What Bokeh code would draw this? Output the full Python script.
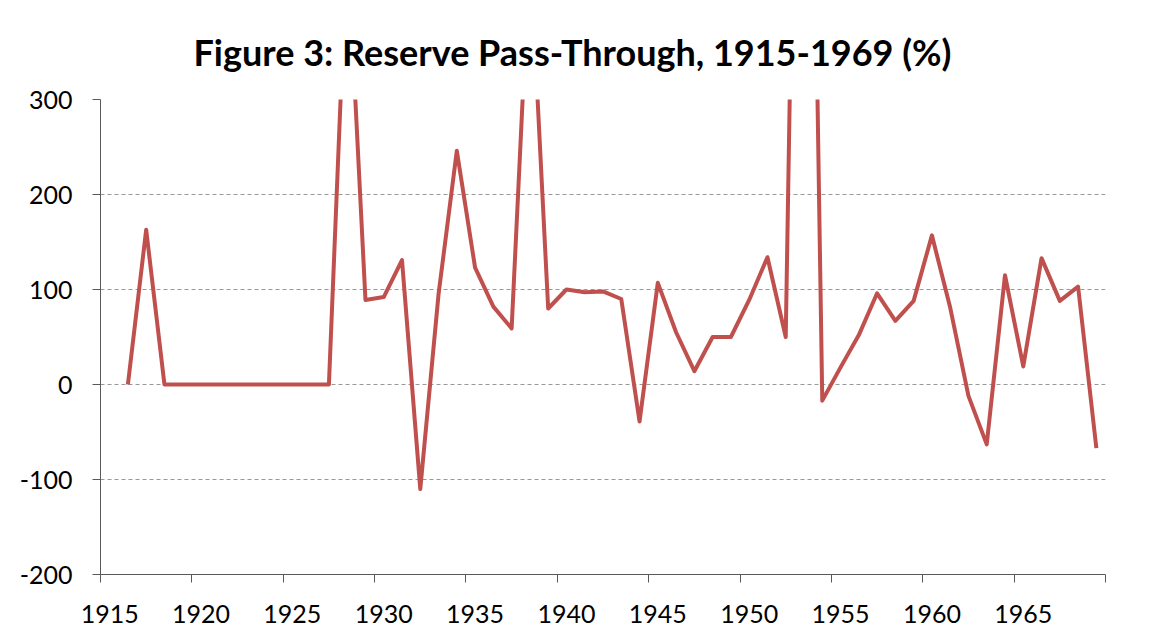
from bokeh.plotting import figure
from bokeh.models import FixedTicker, Range1d, ColumnDataSource, Title
from bokeh.embed import file_html
from bokeh.resources import INLINE

# ---- data ----
years = list(range(1916, 1970))
pass_through = [
    0, 163, 0, 0, 0, 0, 0, 0, 0, 0, 0, 0,      # 1916-1927
    470, 89, 92, 131, -110, 95, 246, 123, 82, 59,  # 1928-1937
    460, 80, 100, 97, 98, 90, -39, 107, 55, 14,    # 1938-1947
    50, 50, 89, 134, 50, 1200, -17, 18, 52, 96,    # 1948-1957
    67, 88, 157, 81, -12, -63, 115, 19, 133, 88,   # 1958-1967
    103, -67,                                      # 1968-1969
]
x_label_years = [1915, 1920, 1925, 1930, 1935, 1940, 1945, 1950, 1955, 1960, 1965]
y_ticks = [-200, -100, 0, 100, 200, 300]
y_tick_labels = ["-200", "-100", "0", "100", "200", "300"]
title_text = "Figure 3: Reserve Pass-Through, 1915-1969 (%)"

FONT = "Lato"

W, H = 1133, 628
p = figure(width=W, height=H, output_backend="svg", toolbar_location=None,
           x_range=Range1d(1914.5, 1969.5), y_range=Range1d(-200, 300),
           min_border_left=100, min_border_right=28, min_border_top=99,
           min_border_bottom=54)
p.outline_line_color = None
p.background_fill_color = "white"
p.border_fill_color = "white"

src = ColumnDataSource(dict(year=years, v=pass_through))
p.line("year", "v", source=src, line_color="#C0504D", line_width=4,
       line_join="round")

# x axis: labels at category centres, tick marks at category boundaries
xax = p.xaxis[0]
xax.ticker = FixedTicker(ticks=x_label_years,
                         minor_ticks=[y - 0.5 for y in x_label_years] + [1969.5])
xax.major_tick_line_color = None
xax.major_tick_out = 8
xax.major_tick_in = 0
xax.minor_tick_line_color = "#595959"
xax.minor_tick_out = 8
xax.minor_tick_in = 0
xax.axis_line_color = "#595959"
xax.major_label_text_font = FONT
xax.major_label_text_font_size = "25px"
xax.major_label_text_color = "black"
xax.major_label_standoff = 22

yax = p.yaxis[0]
yax.ticker = FixedTicker(ticks=y_ticks)
yax.major_label_overrides = {t: s for t, s in zip(y_ticks, y_tick_labels)}
yax.major_tick_line_color = "#595959"
yax.major_tick_out = 8
yax.major_tick_in = 0
yax.minor_tick_line_color = None
yax.axis_line_color = "#595959"
yax.major_label_text_font = FONT
yax.major_label_text_font_size = "25px"
yax.major_label_text_color = "black"
yax.major_label_standoff = 20

p.xgrid.grid_line_color = None
p.ygrid.ticker = FixedTicker(ticks=[-100, 0, 100, 200, 300])
p.ygrid.grid_line_color = "#999999"
p.ygrid.grid_line_dash = "4 3"
p.ygrid.grid_line_width = 1

p.title = Title(text=title_text, align="left", offset=93,
                text_font=FONT, text_font_style="bold", text_font_size="36px",
                text_color="black", standoff=52, text_line_height=1.0)

open("out.html", "w").write(file_html(p, INLINE))
